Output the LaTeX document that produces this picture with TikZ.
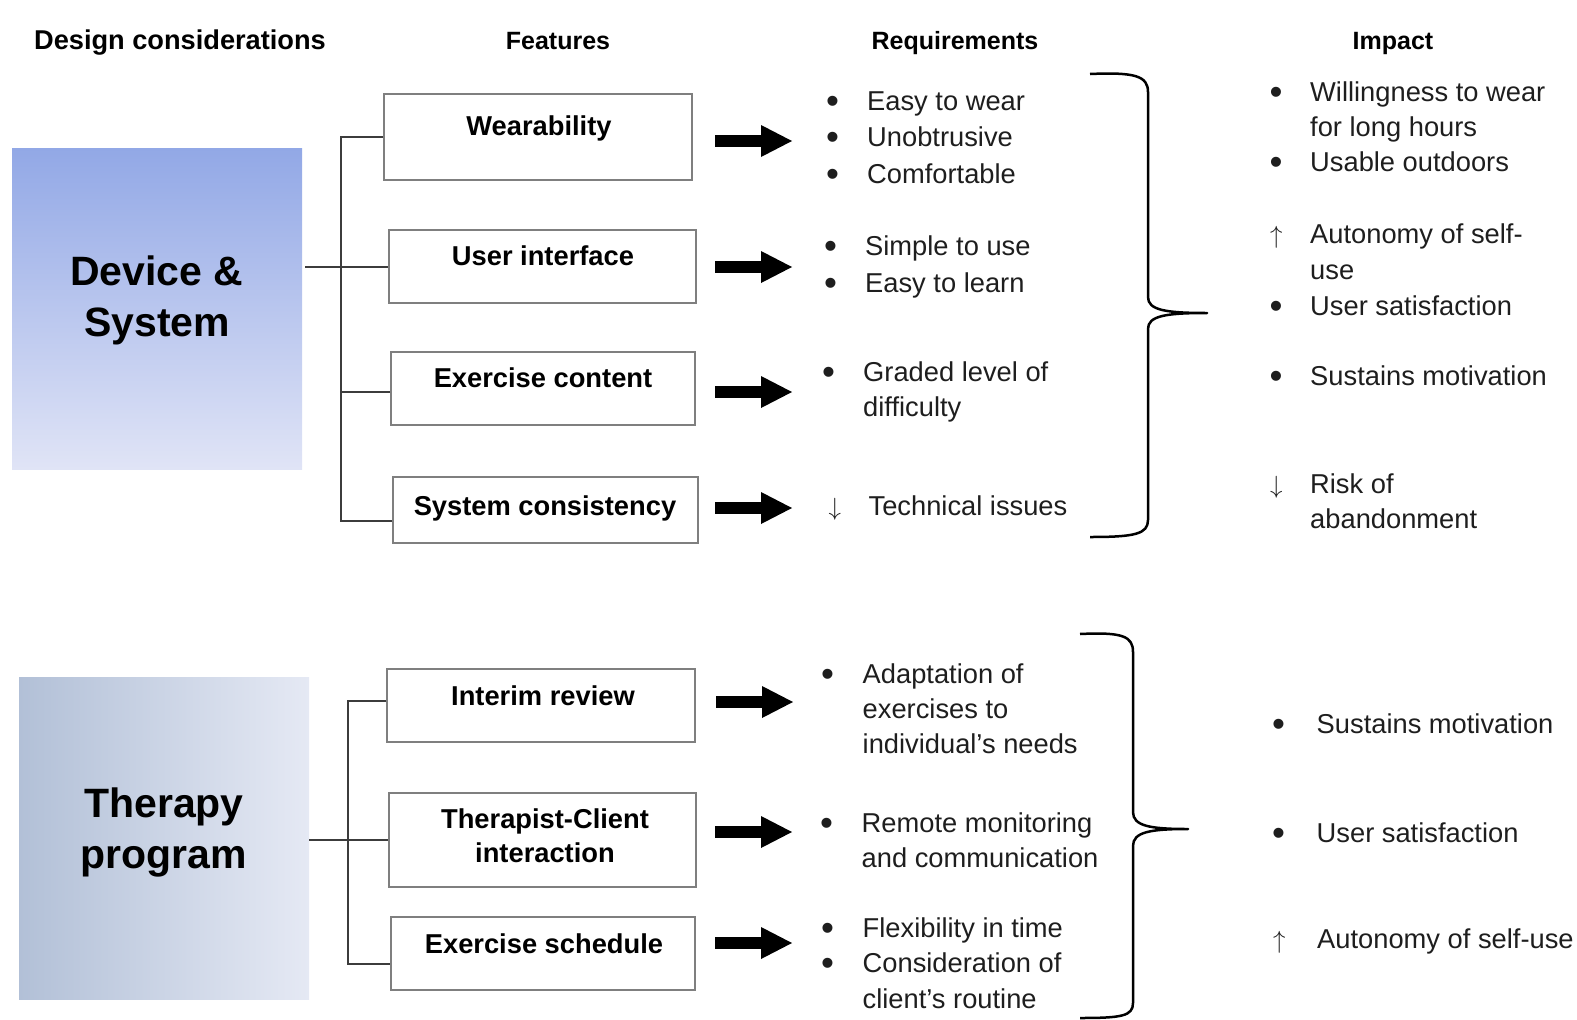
\documentclass[tikz,border=0pt]{standalone}
\usepackage{fontspec}
\usepackage{graphicx}
\setmainfont{Liberation Sans}
\usetikzlibrary{arrows.meta}

\definecolor{ink}{HTML}{1E1E1E}
\definecolor{frame}{HTML}{7F7F7F}
\definecolor{wire}{HTML}{3C3C3C}
\definecolor{devtop}{RGB}{146,168,230}
\definecolor{devbot}{RGB}{224,228,246}
\definecolor{thleft}{RGB}{178,192,215}
\definecolor{thright}{RGB}{229,233,244}

% marker column of a list line (bullet or arrow), fixed width
\newcommand{\mk}[2][40pt]{\makebox[#1][l]{#2}}
\newcommand{\bu}{\raisebox{-0.12em}{\scalebox{1.35}{•}}}
\newcommand{\up}{$\uparrow$}
\newcommand{\dn}{$\downarrow$}

\begin{document}
\begin{tikzpicture}[x=1pt,y=-1pt,
  head/.style={anchor=base, inner sep=0pt, font=\bfseries\fontsize{25}{30}\selectfont},
  groupbox/.style={draw=none, inner sep=0pt, minimum width=290pt, minimum height=321pt},
  bigtxt/.style={anchor=base, inner sep=0pt, font=\bfseries\fontsize{41}{51.5}\selectfont},
  featbox/.style 2 args={draw=frame, line width=2pt, inner sep=0pt, minimum width=#1, minimum height=#2},
  feattxt/.style={anchor=base, inner sep=0pt, font=\bfseries\fontsize{27.3}{34}\selectfont},
  lst/.style={anchor=base west, inner sep=0pt, text=ink, font=\fontsize{27.3}{#1}\selectfont},
  lst/.default=35.5,
  wire/.style={draw=wire, line width=2pt},
  bigarrow/.style={line width=12pt, -{Triangle[length=31pt,width=32pt,line width=0pt]}},
  brace/.style={draw=black, line width=2.5pt, line join=round}
]
\useasboundingbox (0,0) rectangle (1577,1020);

% column headings
\node[head, font=\bfseries\fontsize{27.2}{30}\selectfont] (hdesign) at (180,49) {Design considerations};
\node[head] (hfeat)   at (558,49) {Features};
\node[head] (hreq)    at (955,49) {Requirements};
\node[head] (himp)    at (1393,49) {Impact};

% design consideration blocks
\node[groupbox, top color=devtop, bottom color=devbot] (dev) at (157,308.5) {};
\node[bigtxt] (devtxt) at (157,285) {\begin{tabular}[t]{@{}c@{}}Device \&\\System\end{tabular}};
\node[groupbox, left color=thleft, right color=thright, minimum height=322pt] (th) at (164,838) {};
\node[bigtxt] (thtxt) at (164,817) {\begin{tabular}[t]{@{}c@{}}Therapy\\program\end{tabular}};

% feature boxes
\node[featbox={308pt}{86pt}] (w1) at (538,137) {};
\node[feattxt] (w1t) at (539,135) {Wearability};
\node[featbox={307pt}{73pt}] (ui) at (542.5,266.5) {};
\node[feattxt] (uit) at (543,265) {User interface};
\node[featbox={304pt}{73pt}] (ec) at (543,388.5) {};
\node[feattxt] (ect) at (543,387) {Exercise content};
\node[featbox={305pt}{66pt}] (sc) at (545.5,510) {};
\node[feattxt] (sct) at (545,515) {System consistency};

\node[featbox={308pt}{73pt}] (ir) at (541,705.5) {};
\node[feattxt] (irt) at (543,705) {Interim review};
\node[featbox={307pt}{94pt}] (tc) at (542.5,840) {};
\node[feattxt] (tct) at (545,828) {\begin{tabular}[t]{@{}c@{}}Therapist-Client\\interaction\end{tabular}};
\node[featbox={304pt}{73pt}] (es) at (543,953.5) {};
\node[feattxt] (est) at (544,953) {Exercise schedule};

% tree connectors, upper group
\coordinate (ta) at (341,137);
\coordinate (tb) at (341,521);
\draw[wire] (dev.east |- ui.west) ++(3,0) coordinate (dvw) -- (dvw -| ui.west);
\draw[wire] (w1.west) -- (ta) -- (tb) -- (tb -| sc.west);
\draw[wire] (ec.west) ++(0,3.5) coordinate (ecw) -- (ecw -| ta);

% tree connectors, lower group
\coordinate (ba) at (348,701);
\coordinate (bb) at (348,964);
\draw[wire] (ir.west |- ba) -- (ba) -- (bb) -- (bb -| es.west);
\draw[wire] (th.east |- tc.west) -- (tc.west);

% feature -> requirement arrows
\coordinate (a1) at (715,141);
\coordinate (a2) at (715,267);
\coordinate (a3) at (715,392);
\coordinate (a4) at (715,508);
\coordinate (a5) at (716,702);
\coordinate (a6) at (715,832);
\coordinate (a7) at (715,943);
\foreach \a in {a1,a2,a3,a4,a5,a6,a7}
  \draw[bigarrow] (\a) -- ++(77,0);

% requirements
\node[lst=36.5] (r1) at (826,110) {\begin{tabular}[t]{@{}l@{}}\mk[41pt]{\bu}Easy to wear\\\mk[41pt]{\bu}Unobtrusive\\\mk[41pt]{\bu}Comfortable\end{tabular}};
\node[lst=37] (r2) at (824,255) {\begin{tabular}[t]{@{}l@{}}\mk[41pt]{\bu}Simple to use\\\mk[41pt]{\bu}Easy to learn\end{tabular}};
\node[lst=35] (r3) at (822,381) {\begin{tabular}[t]{@{}l@{}}\mk[41pt]{\bu}Graded level of\\\mk[41pt]{}difficulty\end{tabular}};
\node[lst] (r4) at (828.4,515) {\begin{tabular}[t]{@{}l@{}}\mk{\dn}Technical issues\end{tabular}};

\node[lst=35] (r5) at (821,683) {\begin{tabular}[t]{@{}l@{}}\mk[41.5pt]{\bu}Adaptation of\\\mk[41.5pt]{}exercises to\\\mk[41.5pt]{}individual’s needs\end{tabular}};
\node[lst=35] (r6) at (820,832) {\begin{tabular}[t]{@{}l@{}}\mk[41.5pt]{\bu}Remote monitoring\\\mk[41.5pt]{}and communication\end{tabular}};
\node[lst=35.5] (r7) at (821,937) {\begin{tabular}[t]{@{}l@{}}\mk[41.5pt]{\bu}Flexibility in time\\\mk[41.5pt]{\bu}Consideration of\\\mk[41.5pt]{}client’s routine\end{tabular}};

% braces gathering the requirements
\draw[brace] (1090,74) .. controls (1135,72) and (1148,76) .. (1148,92)
  -- (1148,297) .. controls (1148,310) and (1165,313) .. (1207,313)
  .. controls (1165,313) and (1148,316) .. (1148,329)
  -- (1148,520) .. controls (1148,534) and (1135,537) .. (1090,537);
\draw[brace] (1080,634) .. controls (1122,632) and (1133,636) .. (1133,652)
  -- (1133,812) .. controls (1133,826) and (1150,829) .. (1188,829)
  .. controls (1150,829) and (1133,832) .. (1133,846)
  -- (1133,1003) .. controls (1133,1016) and (1122,1018) .. (1080,1018);

% impact
\node[lst=35] (i1) at (1269.5,101) {\begin{tabular}[t]{@{}l@{}}\mk[40.5pt]{\bu}Willingness to wear\\\mk[40.5pt]{}for long hours\\\mk[40.5pt]{\bu}Usable outdoors\end{tabular}};
\node[lst=36] (i2) at (1270,243) {\begin{tabular}[t]{@{}l@{}}\mk{\up}Autonomy of self-\\\mk{}use\\\makebox[40pt][l]{\hspace{-0.5pt}\bu}User satisfaction\end{tabular}};
\node[lst] (i3) at (1269.5,385) {\begin{tabular}[t]{@{}l@{}}\mk[40.5pt]{\bu}Sustains motivation\end{tabular}};
\node[lst=35] (i4) at (1270,493) {\begin{tabular}[t]{@{}l@{}}\mk{\dn}Risk of\\\mk{}abandonment\end{tabular}};

\node[lst] (i5) at (1272,733) {\begin{tabular}[t]{@{}l@{}}\mk[44.5pt]{\bu}Sustains motivation\end{tabular}};
\node[lst] (i6) at (1272,842) {\begin{tabular}[t]{@{}l@{}}\mk[44.5pt]{\bu}User satisfaction\end{tabular}};
\node[lst] (i7) at (1273,948) {\begin{tabular}[t]{@{}l@{}}\mk[44pt]{\up}Autonomy of self-use\end{tabular}};
\end{tikzpicture}
\end{document}
